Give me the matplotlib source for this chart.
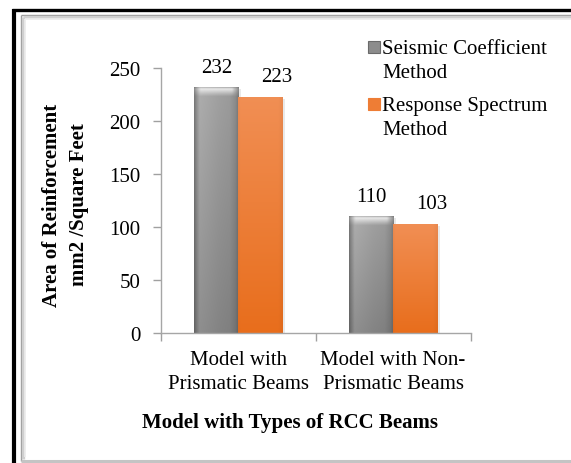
import numpy as np
import matplotlib
matplotlib.use("Agg")
import matplotlib.pyplot as plt
from matplotlib.patches import Rectangle
import matplotlib.patheffects as pe

# ---- data ----
categories = ["Model with\nPrismatic Beams", "Model with Non-\nPrismatic Beams"]
series_names = ["Seismic Coefficient\nMethod", "Response Spectrum\nMethod"]
seismic = [232, 110]
response = [223, 103]
y_ticks = [0, 50, 100, 150, 200, 250]
x_title = "Model with Types of RCC Beams"
y_title = "Area of Reinforcement\nmm2 /Square Feet"

W, H = 571, 464
plt.rcParams['font.family'] = ['Liberation Serif', 'DejaVu Serif']
FS = 15

fig = plt.figure(figsize=(W / 100, H / 100), dpi=100)
fig.patch.set_facecolor('white')

# ---- decorative frame (pixel coords) ----
bg = fig.add_axes([0, 0, 1, 1], zorder=-5)
bg.set_xlim(0, W)
bg.set_ylim(H, 0)
bg.axis('off')
# outer black frame
bg.plot([12, W], [10.5, 10.5], color='black', lw=2.4, solid_capstyle='butt')
bg.plot([14, 14], [9.5, H], color='black', lw=3.0, solid_capstyle='butt')
# inner bevel frame
for off, col, lw in [(0, '#9a9a9a', 1.0), (2.2, '#cfcfcf', 2.4), (4.2, '#ececec', 1.2)]:
    bg.plot([21 + off, W], [16 + off, 16 + off], color=col, lw=lw, solid_capstyle='butt')
    bg.plot([21 + off, 21 + off], [16 + off, 462 - off], color=col, lw=lw, solid_capstyle='butt')
bg.plot([21, W], [461.5, 461.5], color='#c4c4c4', lw=2.2, solid_capstyle='butt')

# ---- main axes ----
ax_left, ax_right = 161 / W, 470.5 / W
ax_bot, ax_top = (H - 334) / H, (H - 69) / H
ax = fig.add_axes([ax_left, ax_bot, ax_right - ax_left, ax_top - ax_bot])
ax.set_facecolor('none')

x = np.arange(len(categories))
bw = 0.285
bars_g = ax.bar(x - bw / 2, seismic, width=bw, color='#9a9a9a', zorder=2)
bars_o = ax.bar(x + bw / 2, response, width=bw, color='#ee7d35', zorder=2)
for b in list(bars_g) + list(bars_o):
    b.set_path_effects([pe.SimplePatchShadow(offset=(2.0, -1.5), shadow_rgbFace='#888888', alpha=0.18),
                        pe.Normal()])

# gradient fills clipped to bars
nx = 60
t = np.linspace(0, 1, nx)
g_h = np.interp(t, [0, 0.04, 0.12, 0.3, 0.55, 0.8, 0.93, 1.0],
                [0.47, 0.55, 0.68, 0.66, 0.63, 0.61, 0.55, 0.47])
px_per_unit = (334 - 69) / 250.0
for b in bars_g:
    h = b.get_height()
    ny = max(int(h * px_per_unit), 2)
    v = np.linspace(1, 0, ny)  # 1 at top row, 0 at bottom
    vfac = 0.82 + 0.18 * v
    img = (g_h[None, :] * vfac[:, None])
    rows = np.arange(ny)
    cap = np.interp(rows, [0, 1, 2, 4, 6, 8, 9], [0.3, 0.7, 0.8, 0.55, 0.3, 0.08, 0.0], right=0.0)
    edge = np.interp(t, [0, 0.08, 0.15, 0.85, 0.92, 1.0], [0.2, 0.5, 1.0, 1.0, 0.5, 0.2])
    blend = cap[:, None] * edge[None, :]
    img = img * (1 - blend) + 0.95 * blend
    rgb = np.dstack([img, img, img])
    x0 = b.get_x()
    im = ax.imshow(rgb, extent=[x0, x0 + b.get_width(), 0, h], aspect='auto',
                   origin='upper', zorder=2.1, interpolation='bilinear')
    im.set_clip_path(b)

top_c = np.array([0.945, 0.560, 0.330])
bot_c = np.array([0.910, 0.430, 0.110])
o_h = np.interp(t, [0, 0.05, 0.9, 1.0], [0.97, 1.0, 1.0, 0.96])
for b in bars_o:
    h = b.get_height()
    ny = max(int(h * px_per_unit), 2)
    v = np.linspace(1, 0, ny)[:, None, None]
    col = bot_c[None, None, :] + (top_c - bot_c)[None, None, :] * v
    rgb = np.clip(col * o_h[None, :, None], 0, 1)
    rgb = np.broadcast_to(rgb, (ny, nx, 3))
    x0 = b.get_x()
    im = ax.imshow(rgb, extent=[x0, x0 + b.get_width(), 0, h], aspect='auto',
                   origin='upper', zorder=2.1, interpolation='bilinear')
    im.set_clip_path(b)

# data labels
for b, val in zip(bars_g, seismic):
    ax.annotate(f"{val}", xy=(b.get_x() + b.get_width() / 2, val), xytext=(0, 14),
                textcoords='offset points', ha='center', va='center', fontsize=FS)
for b, val in zip(bars_o, response):
    ax.annotate(f"{val}", xy=(b.get_x() + b.get_width() / 2, val), xytext=(12, 14.5),
                textcoords='offset points', ha='center', va='center', fontsize=FS)

ax.set_xlim(-0.5, len(categories) - 0.5)
ax.set_ylim(0, 250)
ax.set_yticks(y_ticks)
ax.set_yticklabels([str(v) for v in y_ticks], fontsize=FS)
ax.set_xticks(x)
ax.set_xticklabels(categories, fontsize=FS, linespacing=1.35)
ax.set_xticks(np.arange(len(categories) + 1) - 0.5, minor=True)
ax.tick_params(axis='x', which='major', length=0, pad=12)
ax.tick_params(axis='x', which='minor', length=6, width=1, color='#a0a0a0', direction='out')
ax.tick_params(axis='y', which='major', length=6, width=1, color='#a0a0a0', direction='out', pad=9)
for s in ['top', 'right']:
    ax.spines[s].set_visible(False)
for s in ['left', 'bottom']:
    ax.spines[s].set_color('#a6a6a6')
    ax.spines[s].set_linewidth(1.0)
    ax.spines[s].set_zorder(3)

# axis titles
fig.text(290.5 / W, (H - 423) / H, x_title, ha='center', va='center',
         fontsize=FS, fontweight='bold')
fig.text(65.5 / W, (H - 205) / H, y_title, ha='center', va='center', rotation=90,
         fontsize=FS, fontweight='bold', linespacing=1.5, multialignment='center')

# legend (manual)
leg_colors = ['#8c8c8c', '#ee7d35']
leg_edges = ['#6a6a6a', '#ee7d35']
leg_y = [48, 105]
for name, fc, ec, yc in zip(series_names, leg_colors, leg_edges, leg_y):
    bg.add_patch(Rectangle((367.5, yc - 6), 12, 12, facecolor=fc, edgecolor=ec, lw=0.8))
    bg.text(382.5, yc - 8, name, ha='left', va='top', fontsize=FS, linespacing=1.35)

fig.savefig("out.png", dpi=100)
